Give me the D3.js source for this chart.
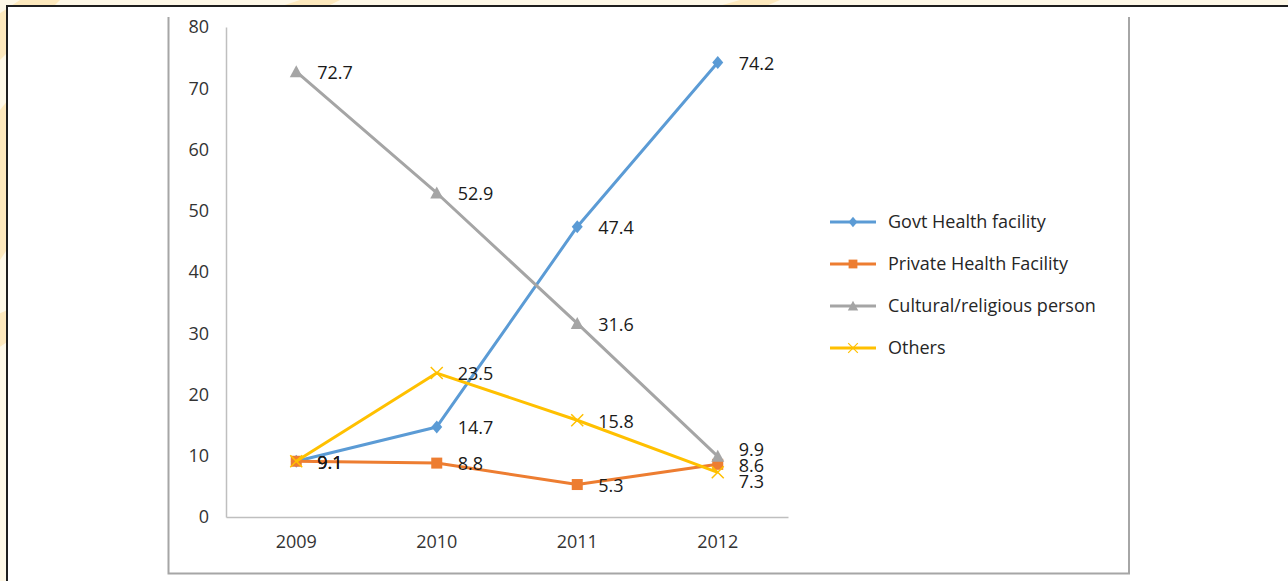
<!DOCTYPE html>
<html>
<head>
<meta charset="utf-8">
<script src="https://cdn.jsdelivr.net/npm/d3@7"></script>
<style>
  body { margin: 0; background: #fef8e7; }
  svg { display: block; font-family: "Open Sans", sans-serif; }
</style>
</head>
<body>
<div id="container"></div>
<script>
'use strict'

const years = ['2009', '2010', '2011', '2012'];
const seriesNames = ['Govt Health facility', 'Private Health Facility', 'Cultural/religious person', 'Others'];
const govt = [9.1, 14.7, 47.4, 74.2];
const privateHf = [9.1, 8.8, 5.3, 8.6];
const cultural = [72.7, 52.9, 31.6, 9.9];
const others = [9.1, 23.5, 15.8, 7.3];
const yTicks = [0, 10, 20, 30, 40, 50, 60, 70, 80];

const colors = ['#5b9bd5', '#ed7d31', '#a5a5a5', '#ffc000'];
const shapes = ['diamond', 'square', 'triangle', 'cross'];
const allValues = [govt, privateHf, cultural, others];

const width = 1288, height = 581;

const svg = d3.select('#container').append('svg')
    .attr('width', width)
    .attr('height', height);

// decorative background bands
const bg = svg.append('g');
bg.append('rect').attr('width', width).attr('height', height).attr('fill', '#fef8e7');
[[-40, 0, 60], [180, 0, 120], [600, 0, 140], [-60, 300, 90]].forEach(b => {
    bg.append('polygon')
      .attr('points', `${b[0]},${b[1] + 40} ${b[0] + b[2]},${b[1]} ${b[0] + b[2] + 40},${b[1]} ${b[0] + 40},${b[1] + 60}`)
      .attr('fill', '#fde9bd');
});
bg.append('polygon').attr('points', '0,110 40,60 40,200 0,260').attr('fill', '#fde9bd');

// slide frame
svg.append('rect')
    .attr('x', 7).attr('y', 6)
    .attr('width', 1400).attr('height', 700)
    .attr('fill', '#fff')
    .attr('stroke', '#1e1e1e')
    .attr('stroke-width', 2);

// chart border
svg.append('path')
    .attr('d', 'M168.5,17 V573.5 H1129 V17')
    .attr('fill', 'none')
    .attr('stroke', '#a6a6a6')
    .attr('stroke-width', 2);

const plot = { left: 226, right: 788, top: 27, bottom: 517 };

const x = d3.scaleBand().domain(years).range([plot.left, plot.right]);
const y = d3.scaleLinear().domain([0, 80]).range([plot.bottom, plot.top]);

// axes
const yAxis = svg.append('g')
    .attr('transform', `translate(${plot.left},0)`)
    .call(d3.axisLeft(y).tickValues(yTicks).tickSize(0).tickPadding(17));
yAxis.select('.domain').attr('stroke', '#bfbfbf').attr('stroke-width', 1.5);
yAxis.selectAll('text').attr('font-size', 18).attr('fill', '#333').attr('font-family', 'Open Sans');

const xAxis = svg.append('g')
    .attr('transform', `translate(0,${plot.bottom})`)
    .call(d3.axisBottom(x).tickSize(0).tickPadding(18));
xAxis.select('.domain').attr('stroke', '#bfbfbf').attr('stroke-width', 1.5);
xAxis.selectAll('text').attr('font-size', 18).attr('fill', '#333').attr('font-family', 'Open Sans');

const cx = d => x(d) + x.bandwidth() / 2;

function marker(g, shape, color) {
    if (shape === 'diamond') {
        g.append('path').attr('d', 'M0,-6.5 L5.5,0 L0,6.5 L-5.5,0 Z').attr('fill', color);
    } else if (shape === 'square') {
        g.append('rect').attr('x', -5.5).attr('y', -5.5).attr('width', 11).attr('height', 11).attr('fill', color);
    } else if (shape === 'triangle') {
        g.append('path').attr('d', 'M0,-6.5 L6.5,5.5 L-6.5,5.5 Z').attr('fill', color);
    } else {
        g.append('path').attr('d', 'M-6,-6 L6,6 M-6,6 L6,-6').attr('stroke', color).attr('stroke-width', 1.5);
    }
}

const line = d3.line().x((d, i) => cx(years[i])).y(d => y(d));

allValues.forEach((vals, s) => {
    svg.append('path')
        .datum(vals)
        .attr('d', line)
        .attr('fill', 'none')
        .attr('stroke', colors[s])
        .attr('stroke-width', 3)
        .attr('stroke-linejoin', 'round');
    vals.forEach((v, i) => {
        const g = svg.append('g').attr('transform', `translate(${cx(years[i])},${y(v)})`);
        marker(g, shapes[s], colors[s]);
    });
});

// data labels, spread apart when they crowd at one year
years.forEach((yr, i) => {
    const uniq = Array.from(new Set(allValues.map(v => v[i])))
        .map(v => ({ v, py: y(v) }))
        .sort((a, b) => a.py - b.py);
    // simple collision spreading
    for (let k = 0; k < 20; k++) {
        for (let j = 1; j < uniq.length; j++) {
            const gap = uniq[j].py - uniq[j - 1].py;
            if (gap < 16) {
                const push = (16 - gap) / 2;
                uniq[j].py += push;
                uniq[j - 1].py -= push;
            }
        }
    }
    allValues.forEach(vals => {
        const lab = uniq.find(u => u.v === vals[i]);
        svg.append('text')
            .attr('x', cx(yr) + 21)
            .attr('y', lab.py + 1)
            .attr('dy', '0.35em')
            .attr('font-size', 18)
            .attr('fill', '#1a1a1a')
            .text(vals[i].toFixed(1));
    });
});

// legend
const legend = svg.append('g').attr('transform', 'translate(830,222)');
seriesNames.forEach((name, s) => {
    const g = legend.append('g').attr('transform', `translate(0,${s * 42})`);
    g.append('line').attr('x1', 0).attr('x2', 46).attr('y1', 0).attr('y2', 0)
        .attr('stroke', colors[s]).attr('stroke-width', 3);
    const m = g.append('g').attr('transform', 'translate(23,0) scale(0.8)');
    marker(m, shapes[s], colors[s]);
    g.append('text')
        .attr('x', 58).attr('y', 0).attr('dy', '0.35em')
        .attr('font-size', 18)
        .attr('fill', '#262626')
        .text(name);
});
</script>
</body>
</html>
